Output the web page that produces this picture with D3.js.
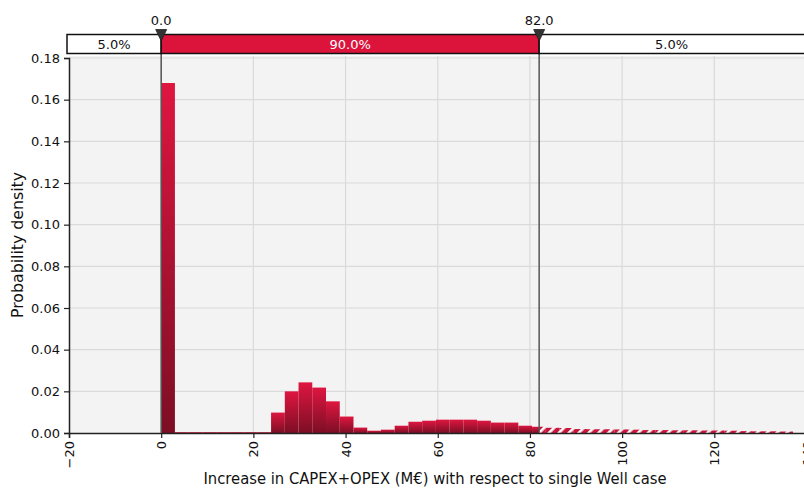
<!DOCTYPE html>
<html><head><meta charset="utf-8">
<script src="https://cdn.jsdelivr.net/npm/d3@7"></script>
<style>
html,body{margin:0;padding:0;background:#fff;overflow:hidden}
svg{display:block;font-family:"DejaVu Sans",Verdana,sans-serif}
</style></head><body>
<svg id="c" width="804" height="488"></svg>
<script>
// ---- data ----
const binStart = 0;
const binWidth = 2.98;
const densities = [
  0.168, 0.0004, 0.0004, 0.0004, 0.0004, 0.0004, 0.0004, 0.0004,
  0.0098, 0.0200, 0.0243, 0.0218, 0.0152, 0.0079, 0.0026, 0.0011,
  0.0016, 0.0035, 0.0054, 0.0059, 0.0064, 0.0064, 0.0064, 0.0059,
  0.0050, 0.0050, 0.0035, 0.0030,
  0.0025, 0.0024, 0.0019, 0.0018, 0.0018, 0.0017, 0.0016, 0.0014,
  0.0014, 0.0013, 0.0013, 0.0012, 0.0012, 0.0011, 0.0009, 0.0008,
  0.0008, 0.0007
];
const xTicks = [-20, 0, 20, 40, 60, 80, 100, 120, 140];
const yTicks = [0, 0.02, 0.04, 0.06, 0.08, 0.10, 0.12, 0.14, 0.16, 0.18];
const markers = [0.0, 82.0];
const bandLabels = ["5.0%", "90.0%", "5.0%"];
const xTitle = "Increase in CAPEX+OPEX (M€) with respect to single Well case";
const yTitle = "Probability density";

// ---- layout ----
const svg = d3.select("#c");
const x = d3.scaleLinear().domain([-20, 140]).range([69, 806.5]);
const y = d3.scaleLinear().domain([0, 0.18]).range([433, 58]);
const plotTop = 56;
const bins = densities.map((d, i) => ({x0: binStart + i*binWidth, x1: binStart + (i+1)*binWidth, v: d}));

const defs = svg.append("defs");
const grad = defs.append("linearGradient").attr("id","barGrad")
  .attr("x1",0).attr("y1",0).attr("x2",0).attr("y2",1);
grad.append("stop").attr("offset","0%").attr("stop-color","#de1640");
grad.append("stop").attr("offset","100%").attr("stop-color","#7c0e24");

const pat = defs.append("pattern").attr("id","hatch").attr("patternUnits","userSpaceOnUse")
  .attr("width",7).attr("height",7).attr("patternTransform","rotate(45)");
pat.append("rect").attr("width",7).attr("height",7).attr("fill","#c8153b");
pat.append("rect").attr("x",0).attr("width",2.6).attr("height",7).attr("fill","#ffffff");

defs.append("clipPath").attr("id","clipL").append("rect")
  .attr("x", x(-20)).attr("y", 0).attr("width", x(markers[1]) - x(-20)).attr("height", 488);
defs.append("clipPath").attr("id","clipR").append("rect")
  .attr("x", x(markers[1])).attr("y", 0).attr("width", 806 - x(markers[1])).attr("height", 488);

// background
svg.append("rect").attr("x", x(-20)).attr("y", plotTop).attr("width", x(140)-x(-20)).attr("height", y(0)-plotTop).attr("fill","#f3f3f3");

// grid
svg.append("g").selectAll("line").data(xTicks.slice(1,-1)).join("line")
  .attr("x1", d=>x(d)).attr("x2", d=>x(d)).attr("y1", plotTop).attr("y2", y(0))
  .attr("stroke","#dadada").attr("stroke-width",1.2);
svg.append("g").selectAll("line").data(yTicks.slice(1)).join("line")
  .attr("x1", x(-20)).attr("x2", x(140)).attr("y1", d=>y(d)).attr("y2", d=>y(d))
  .attr("stroke","#dadada").attr("stroke-width",1.2);

// bars
svg.append("g").attr("clip-path","url(#clipL)").selectAll("rect").data(bins).join("rect")
  .attr("x", d=>x(d.x0)).attr("width", d=>x(d.x1)-x(d.x0))
  .attr("y", d=>y(d.v)).attr("height", d=>y(0)-y(d.v))
  .attr("fill","url(#barGrad)");
svg.append("g").attr("clip-path","url(#clipR)").selectAll("rect").data(bins).join("rect")
  .attr("x", d=>x(d.x0)).attr("width", d=>x(d.x1)-x(d.x0))
  .attr("y", d=>y(d.v)).attr("height", d=>y(0)-y(d.v))
  .attr("fill","url(#hatch)");

// axes
const xAxis = svg.append("g").attr("transform",`translate(0,${y(0)})`)
  .call(d3.axisBottom(x).tickValues(xTicks).tickFormat(d3.format("d")).tickSizeOuter(0).tickSize(5));
xAxis.select(".domain").attr("stroke","#222").attr("stroke-width",1.5);
xAxis.selectAll(".tick line").attr("stroke","#222").attr("stroke-width",1.2);
xAxis.selectAll(".tick text").attr("font-size",13).attr("fill","#111")
  .attr("font-family","DejaVu Sans, sans-serif")
  .attr("transform","rotate(-90)").attr("text-anchor","end")
  .attr("x",-8).attr("y",0).attr("dy","0.35em");

const yAxis = svg.append("g").attr("transform",`translate(${x(-20)},0)`)
  .call(d3.axisLeft(y).tickValues(yTicks).tickFormat(d3.format(".2f")).tickSizeOuter(0).tickSize(5));
yAxis.select(".domain").attr("stroke","#222").attr("stroke-width",1.5);
yAxis.selectAll(".tick line").attr("stroke","#222").attr("stroke-width",1.2);
yAxis.selectAll(".tick text").attr("font-size",13).attr("fill","#111")
  .attr("font-family","DejaVu Sans, sans-serif").attr("x",-9);

// marker lines
svg.append("g").selectAll("line").data(markers).join("line")
  .attr("x1", d=>x(d)).attr("x2", d=>x(d)).attr("y1", 40).attr("y2", y(0))
  .attr("stroke","#555").attr("stroke-width",1.5);

// top band
const bandEdges = [-20, markers[0], markers[1], 140];
const bandY = 34.5, bandH = 19;
const band = svg.append("g");
bandLabels.forEach((lab, i) => {
  const x0 = i === 0 ? 67 : x(bandEdges[i]);
  const x1 = i === 2 ? 806 : x(bandEdges[i+1]);
  band.append("rect").attr("x", x0).attr("y", bandY).attr("width", x1-x0).attr("height", bandH)
    .attr("fill", i === 1 ? "#dc143c" : "#ffffff").attr("stroke","#111").attr("stroke-width",1.5);
  band.append("text").attr("x", (x0 + Math.min(x1, 804))/2).attr("y", bandY + bandH/2).attr("dy","0.36em")
    .attr("text-anchor","middle").attr("font-size",13)
    .attr("fill", i === 1 ? "#ffffff" : "#111").text(lab);
});

// marker triangles + labels
markers.forEach(m => {
  const cx = x(m);
  svg.append("path").attr("d", `M${cx-5.5},29.5 L${cx+5.5},29.5 L${cx},41 Z`).attr("fill","#333").attr("stroke","#222").attr("stroke-width",0.8);
  svg.append("text").attr("x", cx).attr("y", 24.5).attr("text-anchor","middle").attr("font-size",13)
    .attr("fill","#111").text(d3.format(".1f")(m));
});

// titles
svg.append("text").attr("x", 435).attr("y", 484).attr("text-anchor","middle").attr("font-size",16)
  .attr("fill","#111").attr("textLength",463).attr("lengthAdjust","spacingAndGlyphs").text(xTitle);
svg.append("text").attr("transform","translate(23,245) rotate(-90)").attr("text-anchor","middle")
  .attr("font-size",16).attr("fill","#111").attr("textLength",146).attr("lengthAdjust","spacingAndGlyphs").text(yTitle);
</script>
</body></html>
